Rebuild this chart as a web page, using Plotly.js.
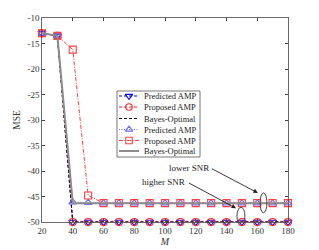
<!DOCTYPE html>
<html><head><meta charset="utf-8">
<script src="https://cdn.plot.ly/plotly-3.0.1.min.js"></script>
<style>html,body{margin:0;padding:0;background:#fff}</style>
</head><body><div id="c" style="width:319px;height:250px"></div>
<script>
var M = [20,30,40,50,60,70,80,90,100,110,120,130,140,150,160,170,180];
var predHigh  = [-13,-13.5,-50,-50,-50,-50,-50,-50,-50,-50,-50,-50,-50,-50,-50,-50,-50];
var propHigh  = [-13,-13.5,-50,-50,-50,-50,-50,-50,-50,-50,-50,-50,-50,-50,-50,-50,-50];
var bayesHigh = [-13,-13.5,-50,-50,-50,-50,-50,-50,-50,-50,-50,-50,-50,-50,-50,-50,-50];
var predLow   = [-13,-13.5,-46.1,-46.2,-46.3,-46.3,-46.3,-46.3,-46.3,-46.3,-46.3,-46.3,-46.3,-46.3,-46.3,-46.3,-46.3];
var propLow   = [-13,-13.5,-16.2,-44.8,-46.3,-46.3,-46.3,-46.3,-46.3,-46.3,-46.3,-46.3,-46.3,-46.3,-46.3,-46.3,-46.3];
var bayesLow  = [-13,-13.5,-46.3,-46.3,-46.3,-46.3,-46.3,-46.3,-46.3,-46.3,-46.3,-46.3,-46.3,-46.3,-46.3,-46.3,-46.3];
var xTicks = [20,40,60,80,100,120,140,160,180];
var yTicks = [-10,-15,-20,-25,-30,-35,-40,-45,-50];
var yTickText = ['-10','-15','-20','-25','-30','-35','-40','-45','-50'];
var names = ['Predicted AMP','Proposed AMP','Bayes-Optimal','Predicted AMP','Proposed AMP','Bayes-Optimal'];

var FONT = 'Liberation Serif, Times New Roman, serif';
var styles = [
  {color:'#0000ff', dash:'3px,2px', width:1, symbol:'triangle-down-open'},
  {color:'#ff2020', dash:'3px,2px', width:1, symbol:'circle-open'},
  {color:'#000000', dash:'3px,2px', width:1, symbol:null},
  {color:'#6a6aff', dash:'1px,1.5px', width:1, symbol:'triangle-up-open'},
  {color:'#ff4040', dash:'4px,1.5px,1px,1.5px', width:1, symbol:'square-open'},
  {color:'#8c8c8c', dash:'solid', width:2, symbol:null}
];
var series = [predHigh, propHigh, bayesHigh, predLow, propLow, bayesLow];

var traces = series.map(function(s,i){
  var st = styles[i];
  var t = {x:M, y:s, type:'scatter', name:names[i], showlegend:false, cliponaxis:false,
    mode: st.symbol ? 'lines+markers' : 'lines',
    line:{color:st.color, dash:st.dash, width:st.width}};
  if(st.symbol) t.marker = {symbol:st.symbol, size:7, color:st.color, line:{width:1.1, color:st.color}};
  return t;
});

// legend (pixel coordinates on overlay axes)
var legRows = [96,107,118.5,129.5,140.5,151];
var shapes = [{type:'rect', xref:'x2', yref:'y2', x0:117, x1:200, y0:91, y1:157, line:{color:'#555', width:0.8}, fillcolor:'#fff', layer:'below'}];
var annotations = [];
var legMx = [], legMy = [], legSym = [], legCol = [];
legRows.forEach(function(yy,i){
  var st = styles[i];
  shapes.push({type:'line', xref:'x2', yref:'y2', x0:119, x1:139, y0:yy, y1:yy, line:{color:st.color, dash:st.dash, width:st.width}, layer:'below'});
  annotations.push({xref:'x2', yref:'y2', x:142, y:yy, text:names[i], showarrow:false, xanchor:'left', yanchor:'middle', font:{family:FONT, size:8.5, color:'#222'}});
  if(st.symbol){ legMx.push(129); legMy.push(yy); legSym.push(st.symbol); legCol.push(st.color); }
});
traces.push({x:legMx, y:legMy, xaxis:'x2', yaxis:'y2', type:'scatter', mode:'markers', showlegend:false, hoverinfo:'skip', cliponaxis:false,
  marker:{symbol:legSym, size:6.5, color:legCol, line:{width:1.1, color:legCol}}});

// ellipses
shapes.push({type:'circle', xref:'x', yref:'y', x0:161.8, x1:166.3, y0:-48.2, y1:-44.3, line:{color:'#444', width:1}});
shapes.push({type:'circle', xref:'x', yref:'y', x0:146.8, x1:152, y0:-50.6, y1:-47.1, line:{color:'#444', width:1}});

// annotation texts and arrows
annotations.push({x:115.6, y:-39.4, xref:'x', yref:'y', text:'lower SNR', showarrow:false, xanchor:'center', yanchor:'middle', font:{family:FONT, size:9, color:'#222'}});
annotations.push({x:99.1, y:-42.2, xref:'x', yref:'y', text:'higher SNR', showarrow:false, xanchor:'center', yanchor:'middle', font:{family:FONT, size:9, color:'#222'}});
annotations.push({x:160.4, y:-44.3, ax:129.5, ay:-39.4, xref:'x', yref:'y', axref:'x', ayref:'y', text:' ', showarrow:true, arrowhead:2, arrowsize:1, arrowwidth:0.9, arrowcolor:'#222', font:{size:1}});
annotations.push({x:146.2, y:-47.3, ax:114.6, ay:-42.2, xref:'x', yref:'y', axref:'x', ayref:'y', text:' ', showarrow:true, arrowhead:2, arrowsize:1, arrowwidth:0.9, arrowcolor:'#222', font:{size:1}});

var layout = {
  width:319, height:250,
  margin:{l:42, r:31, t:18, b:28, pad:0},
  paper_bgcolor:'#fff', plot_bgcolor:'#fff',
  font:{family:FONT, size:9, color:'#333'},
  xaxis:{range:[20,180], tickmode:'array', tickvals:xTicks, ticks:'inside', ticklen:3, tickcolor:'#444',
    showline:true, linecolor:'#444', linewidth:0.8, mirror:'ticks', showgrid:false, zeroline:false,
    tickfont:{family:FONT, size:9, color:'#333'},
    title:{text:'<i>M</i>', font:{family:FONT, size:10, color:'#333'}, standoff:2}},
  yaxis:{range:[-50,-10], tickmode:'array', tickvals:yTicks, ticktext:yTickText, ticks:'inside', ticklen:3, tickcolor:'#444',
    showline:true, linecolor:'#444', linewidth:0.8, mirror:'ticks', showgrid:false, zeroline:false,
    tickfont:{family:FONT, size:9, color:'#333'},
    title:{text:'MSE', font:{family:FONT, size:9.5, color:'#333'}, standoff:4}},
  xaxis2:{overlaying:'x', range:[42,288], visible:false, fixedrange:true},
  yaxis2:{overlaying:'y', range:[222,18], visible:false, fixedrange:true},
  shapes:shapes, annotations:annotations, showlegend:false
};
Plotly.newPlot('c', traces, layout, {staticPlot:true, displayModeBar:false});
</script></body></html>
